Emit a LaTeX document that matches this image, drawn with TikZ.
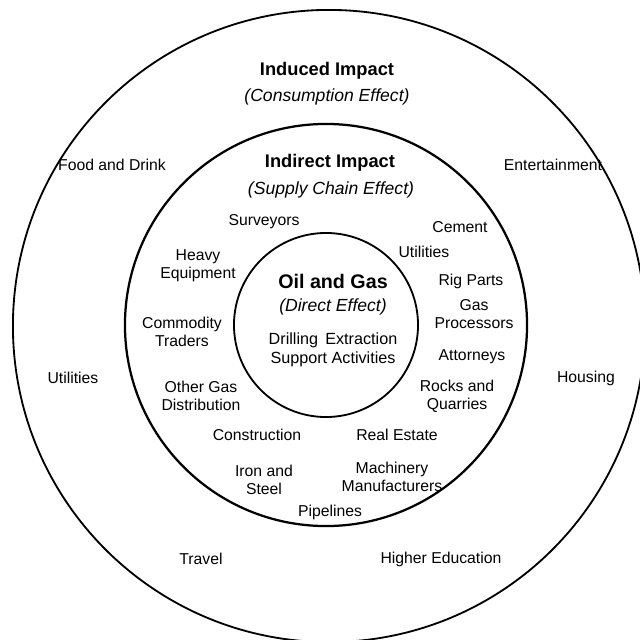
\documentclass[tikz,border=0pt]{standalone}
\usepackage{fontspec}
\setmainfont{Liberation Sans}
\begin{document}
\begin{tikzpicture}[x=0.025cm, y=-0.025cm,
    ring/.style={draw, circle, line width=1.3pt, inner sep=0pt},
    head/.style={font=\fontsize{13}{15}\selectfont\bfseries},
    sub/.style={font=\fontsize{12.5}{15}\selectfont\itshape},
    item/.style={font=\fontsize{11.2}{12.8}\selectfont, align=center}]
    \useasboundingbox (0, 0) rectangle (640, 640);

    % Rings
    \node at (329, 326) (outer) [ring, minimum size=15.8cm] {};
    \node at (326, 325) (middle) [ring, line width=1.6pt, minimum size=10.05cm] {};
    \node at (326, 325) (inner) [ring, minimum size=4.6cm] {};

    % Headings
    \node at (327, 71) (induced) [head] {Induced Impact};
    \node at (327, 97) (consumption) [sub] {(Consumption Effect)};
    \node at (330, 163) (indirect) [head] {Indirect Impact};
    \node at (331, 190) (supply) [sub] {(Supply Chain Effect)};
    \node at (333, 281) (oilgas) [head, font=\fontsize{14}{16}\selectfont\bfseries] {Oil and Gas};
    \node at (333, 307) (direct) [sub] {(Direct Effect)};
    \node at (333, 350) (drilling) [item, font=\fontsize{11.5}{13.5}\selectfont]
        {Drilling\hspace{0.45em}Extraction\\Support Activities};

    % Outer ring
    \node at (112, 165) (food) [item] {Food and Drink};
    \node at (553, 165) (entertain) [item] {Entertainment};
    \node at (73, 378) (utilout) [item] {Utilities};
    \node at (586, 378) (housing) [item] {Housing};
    \node at (201, 559) (travel) [item] {Travel};
    \node at (441, 559) (education) [item] {Higher Education};

    % Middle ring
    \node at (264, 222) (surveyors) [item] {Surveyors};
    \node at (460, 227) (cement) [item] {Cement};
    \node at (424, 252) (utilin) [item] {Utilities};
    \node at (198, 266) (heavy) [item] {Heavy\\Equipment};
    \node at (471, 281) (rig) [item] {Rig Parts};
    \node at (182, 332) (commodity) [item] {Commodity\\Traders};
    \node at (474, 314) (gasproc) [item] {Gas\\Processors};
    \node at (472, 357) (attorneys) [item] {Attorneys};
    \node at (201, 396) (othergas) [item] {Other Gas\\Distribution};
    \node at (457, 396) (rocks) [item] {Rocks and\\Quarries};
    \node at (257, 435) (construction) [item] {Construction};
    \node at (397, 435) (realestate) [item] {Real Estate};
    \node at (264, 480) (iron) [item] {Iron and\\Steel};
    \node at (392, 477) (machinery) [item] {Machinery\\Manufacturers};
    \node at (330, 512) (pipelines) [item] {Pipelines};
\end{tikzpicture}
\end{document}
